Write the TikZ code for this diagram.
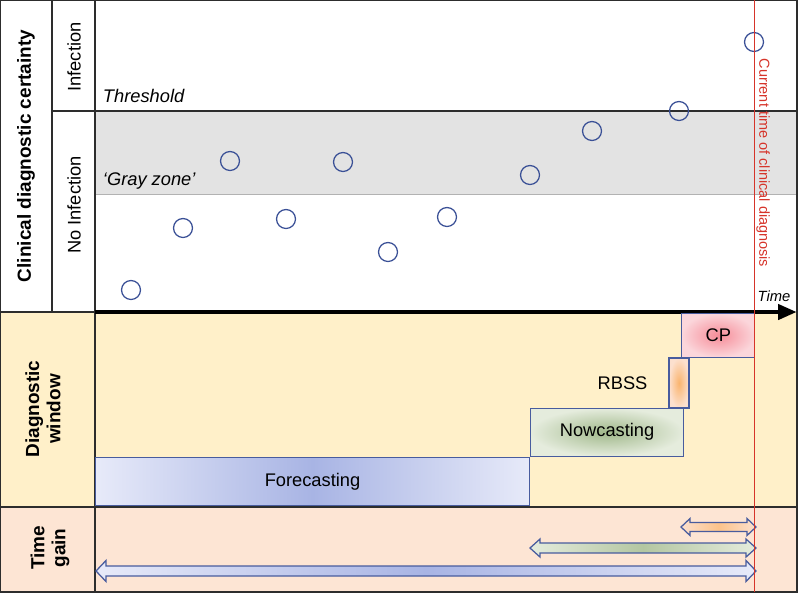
\documentclass[tikz,border=0pt]{standalone}
\usepackage{fontspec}
\setmainfont{Liberation Sans}
\usetikzlibrary{positioning, arrows.meta}
\usepackage{xcolor}

\definecolor{winbg}{RGB}{255,240,201}
\definecolor{gainbg}{RGB}{253,229,212}
\definecolor{grayzone}{RGB}{227,227,227}
\definecolor{dotblue}{RGB}{58,80,150}
\definecolor{boxline}{RGB}{72,92,158}
\definecolor{nowred}{RGB}{214,52,42}
\definecolor{framecol}{RGB}{45,45,45}
\definecolor{fcdark}{RGB}{168,180,228}
\definecolor{fclight}{RGB}{231,234,249}
\definecolor{ncdark}{RGB}{160,184,138}
\definecolor{nclight}{RGB}{229,236,221}
\definecolor{cpdark}{RGB}{246,140,152}
\definecolor{cplight}{RGB}{251,214,219}
\definecolor{rbdark}{RGB}{250,180,110}
\definecolor{rblight}{RGB}{252,224,206}

\tikzset{
  obs/.style={circle, draw=dotblue, line width=0.9pt, minimum size=13.5pt, inner sep=0pt},
  winbox/.style={rectangle, draw=boxline, line width=0.9pt, inner sep=0pt},
  gainarrow/.style={draw=boxline, line width=0.9pt, line join=miter},
  hdr/.style={font=\fontsize{13.5}{15}\selectfont\bfseries, rotate=90, align=center},
  side/.style={font=\fontsize{13}{15}\selectfont, rotate=90},
}

\begin{document}
\begin{tikzpicture}[x=0.025cm, y=-0.025cm, every node/.style={font=\fontsize{13}{15.5}\selectfont}]
\useasboundingbox (0,0) rectangle (800,594);

% backgrounds of the three bands
\fill[winbg] (0,312) rectangle (797,507);
\fill[gainbg] (0,507) rectangle (797,592);
\fill[grayzone] (95,112) rectangle (797,194);
\draw[gray!60, thin] (95,194) -- (797,194);

% frame and dividers
\draw[framecol, line width=0.8pt] (0.5,0.5) rectangle (797,592);
\draw[framecol, line width=0.8pt] (52,0) -- (52,312);
\draw[framecol, line width=0.8pt] (95,0) -- (95,592);
\draw[framecol, line width=0.8pt] (52,111) -- (797,111);
\draw[framecol, line width=0.8pt] (0,312) -- (95,312);
\draw[framecol, line width=1pt] (0,507) -- (797,507);

% row and band labels
\node[hdr] (certainty) at (26,156) {Clinical diagnostic certainty};
\node[side] (infect) at (74,57) {Infection};
\node[side] (noinfect) at (74,205) {No Infection};
\node[hdr] (window) at (43,409) {Diagnostic\\window};
\node[hdr] (gain) at (50,548) {Time\\gain};

\node[anchor=west, font=\fontsize{13}{15.5}\selectfont\itshape] (thr) at (98,96) {Threshold};
\node[anchor=west, font=\fontsize{13}{15.5}\selectfont\itshape] (gz) at (98,181) {‘Gray zone’};

% observations
\node[obs] (o1) at (131,290) {};
\node[obs] (o2) at (183,228) {};
\node[obs] (o3) at (230,161) {};
\node[obs] (o4) at (286,219) {};
\node[obs] (o5) at (343,162) {};
\node[obs] (o6) at (388,252) {};
\node[obs] (o7) at (447,217) {};
\node[obs] (o8) at (530,175) {};
\node[obs] (o9) at (592,131) {};
\node[obs] (o10) at (679,111) {};
\node[obs] (o11) at (754,42) {};

% time axis
\coordinate (t0) at (95,312);
\coordinate (t1) at (797,312);
\draw[line width=3.5pt, -{Triangle[length=13.5pt, width=10.5pt]}] (t0) -- (t1);
\node[font=\fontsize{10.5}{12}\selectfont\itshape] (timelbl) at (774,296) {Time};

% diagnostic window boxes
\node[winbox, minimum width=10.83cm, minimum height=1.2cm,
      left color=fclight, right color=fclight, middle color=fcdark] (fore) at (312.5,481.5) {Forecasting};
\node[winbox, anchor=south west, minimum width=3.83cm, minimum height=1.2cm,
      inner color=ncdark, outer color=nclight] (now) at (fore.north east) {Nowcasting};
\node[winbox, minimum width=0.5cm, minimum height=1.25cm,
      inner color=rbdark, outer color=rblight] (rbss) at (679,383) {};
\node[left=0.4cm of rbss] (rbsslbl) {RBSS};
\node[winbox, anchor=south west, minimum width=1.83cm, minimum height=1.1cm,
      inner color=cpdark, outer color=cplight] (cp) at (681,358) {CP};

% time gain arrows
\draw[gainarrow, left color=rblight, right color=rblight, middle color=rbdark!80]
  (681,527) -- (690,518.5) -- (690,522.5) -- (747,522.5) -- (747,518.5) -- (756,527)
  -- (747,535.5) -- (747,531.5) -- (690,531.5) -- (690,535.5) -- cycle;
\draw[gainarrow, left color=nclight, right color=nclight, middle color=ncdark!80]
  (530,548) -- (540,539) -- (540,543) -- (746,543) -- (746,539) -- (756,548)
  -- (746,557) -- (746,553) -- (540,553) -- (540,557) -- cycle;
\draw[gainarrow, left color=fclight, right color=fclight, middle color=fcdark]
  (96,571) -- (106,560.5) -- (106,566) -- (746,566) -- (746,560.5) -- (756,571)
  -- (746,581.5) -- (746,576) -- (106,576) -- (106,581.5) -- cycle;

% current time of clinical diagnosis
\coordinate (nowtop) at (754,0);
\coordinate (nowbot) at (754,592);
\draw[nowred, line width=0.7pt] (nowtop) -- (nowbot);
\node[rotate=-90, text=nowred, font=\fontsize{10.3}{12}\selectfont] (nowlbl) at (763,163) {Current time of clinical diagnosis};

\end{tikzpicture}
\end{document}
